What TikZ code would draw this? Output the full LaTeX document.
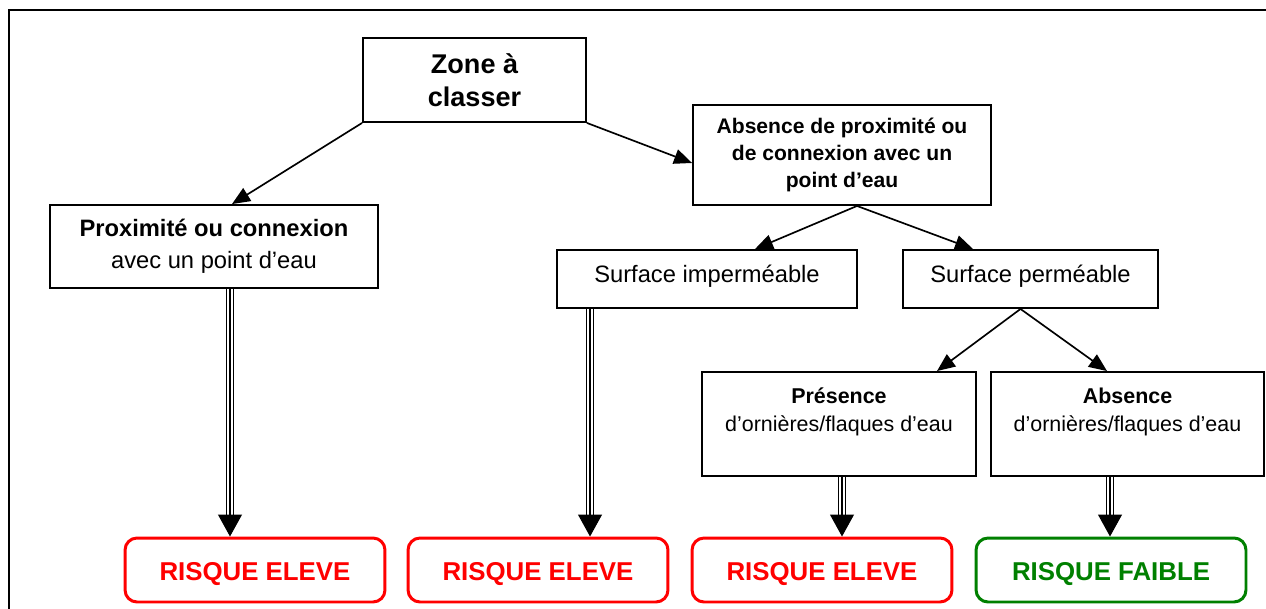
\documentclass[tikz,border=0pt]{standalone}
\usepackage{fontspec}
\setmainfont{Liberation Sans}
\usetikzlibrary{arrows.meta,calc}
\definecolor{riskgreen}{RGB}{0,128,0}
\tikzset{
  box/.style={draw=black,line width=1.1pt,inner sep=0pt,align=center},
  risk/.style={draw=#1,text=#1,line width=1.7pt,rounded corners=0.24cm,inner sep=0pt,minimum height=1.28cm,text height=12pt,text depth=0pt,font=\bfseries\fontsize{14.7}{17}\selectfont},
  arr/.style={-{Triangle[width=0.3cm,length=0.36cm]},line width=0.95pt},
  shaft/.style={line width=0.7pt,double=white,double distance=3.4pt},
  bigtip/.style={-{Triangle[width=0.48cm,length=0.44cm]},line width=0.6pt},
}
\begin{document}
\begin{tikzpicture}[x=0.02cm,y=-0.02cm]
\useasboundingbox (0,0) rectangle (1266,608);
% Frame
\draw[line width=1.1pt] (1290,10) -- (9,10) -- (9,630);
% Top boxes
\node(zone)[box,minimum width=4.46cm,minimum height=1.68cm,font=\bfseries\fontsize{15.4}{18.8}\selectfont] at (474.5,80) {Zone à\\classer};
\node(absA)[box,minimum width=5.96cm,minimum height=2cm,font=\bfseries\fontsize{12}{15.4}\selectfont] at (842,155) {Absence de proximité ou\\de connexion avec un\\point d’eau};
\node(prox)[box,minimum width=6.56cm,minimum height=1.66cm,font=\fontsize{13.5}{18.2}\selectfont] at (214,246.5) {\textbf{Proximité ou connexion}\\avec un point d’eau};
% Surfaces
\node(simp)[box,minimum width=6cm,minimum height=1.16cm,text depth=6pt,font=\fontsize{13.5}{16}\selectfont] at (707,279) {Surface imperméable};
\node(sperm)[box,minimum width=5.1cm,minimum height=1.16cm,text depth=6pt,font=\fontsize{13.5}{16}\selectfont] at (1030.5,279) {Surface perméable};
% Puddles
\node(pres)[box,minimum width=5.48cm,minimum height=2.08cm,font=\fontsize{12.2}{15.9}\selectfont] at (839,424) {\textbf{Présence}\\d’ornières/flaques d’eau\\~};
\node(absB)[box,minimum width=5.46cm,minimum height=2.08cm,font=\fontsize{12.2}{15.9}\selectfont] at (1127.5,424) {\textbf{Absence}\\d’ornières/flaques d’eau\\~};
% Risk levels
\node(r1)[risk=red,minimum width=5.2cm] at (255,570) {RISQUE ELEVE};
\node(r2)[risk=red,minimum width=5.2cm] at (538,570) {RISQUE ELEVE};
\node(r3)[risk=red,minimum width=5.2cm] at (822,570) {RISQUE ELEVE};
\node(r4)[risk=riskgreen,minimum width=5.4cm] at (1111,570) {RISQUE FAIBLE};
% Arrows
\draw[arr] (zone.south west) -- ([xshift=0.36cm]prox.north);
\draw[arr] (zone.south east) -- ([yshift=-0.16cm]absA.west);
\draw[arr] ([xshift=0.3cm]absA.south) -- ([xshift=0.96cm]simp.north);
\draw[arr] ([xshift=0.3cm]absA.south) -- ([xshift=-1.15cm]sperm.north);
\draw[arr] ([xshift=-0.2cm]sperm.south) -- ([xshift=1.96cm]pres.north);
\draw[arr] ([xshift=-0.2cm]sperm.south) -- ([xshift=-0.41cm]absB.north);
% Triple arrows to risk
\foreach \src/\dst/\dx in {prox/r1/0.32cm, simp/r2/-2.34cm, pres/r3/0.06cm, absB/r4/-0.35cm} {
  \draw[shaft] ($(\src.south)+(\dx,0pt)$) -- ($(\src.south |- \dst.north)+(\dx,0.4cm)$);
  \draw[line width=1.1pt] ($(\src.south)+(\dx,0pt)$) -- ($(\src.south |- \dst.north)+(\dx,0.4cm)$);
  \draw[bigtip] ($(\src.south |- \dst.north)+(\dx,0.5cm)$) -- ($(\src.south |- \dst.north)+(\dx,0pt)$);
}
\end{tikzpicture}
\end{document}
